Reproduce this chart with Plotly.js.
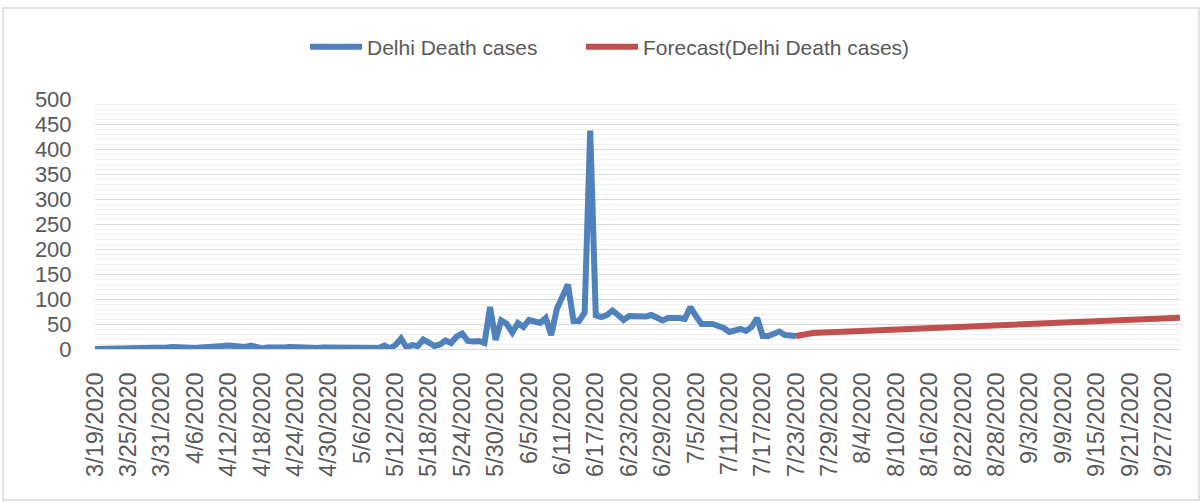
<!DOCTYPE html>
<html>
<head>
<meta charset="utf-8">
<script src="https://cdn.plot.ly/plotly-3.0.1.min.js"></script>
<style>
  html, body { margin: 0; padding: 0; background: #ffffff; }
  #chart { width: 1203px; height: 502px; }
</style>
</head>
<body>
<div id="chart"></div>
<script>
// ---- Data ----
const actualStart = '2020-03-19';
// Daily Delhi death cases, 3/19/2020 .. 7/23/2020
const actualValues = [
  0, 0, 0, 0, 0, 0, 0, 0, 0, 1,
  0, 0, 2, 3, 4, 3, 2, 3, 2, 3,
  3, 4, 3, 6, 7, 6, 3, 4, 7, 4,
  1, 3, 2, 1, 3, 4, 3, 2, 1, 2,
  2, 3, 3, 4, 2, 1, 2, 2, 1, 2,
  3, 2, 7, 1, 8, 21, 3, 8, 6, 19,
  13, 6, 9, 17, 12, 25, 31, 16, 15, 16,
  12, 84, 18, 57, 50, 33, 52, 44, 58, 55,
  52, 62, 28, 80, 104, 129, 56, 56, 73, 437,
  67, 64, 68, 77, 68, 58, 66, 65, 64, 65,
  68, 64, 57, 62, 63, 62, 60, 84, 66, 50,
  50, 50, 46, 42, 34, 37, 40, 36, 44, 62,
  26, 26, 30, 35, 28, 27, 26
];
const forecastStart = '2020-07-23';
// Forecast(Delhi Death cases), 7/23/2020 .. 9/30/2020
const forecastValues = [
  26, 29, 31, 32.0, 32.5, 33.0, 33.4, 33.9, 34.4, 34.8,
  35.3, 35.7, 36.2, 36.7, 37.1, 37.6, 38.0, 38.5, 39.0, 39.4,
  39.9, 40.3, 40.8, 41.3, 41.7, 42.2, 42.6, 43.1, 43.6, 44.0,
  44.5, 44.9, 45.4, 45.9, 46.3, 46.8, 47.2, 47.7, 48.2, 48.6,
  49.1, 49.5, 50.0, 50.5, 50.9, 51.4, 51.8, 52.3, 52.8, 53.2,
  53.7, 54.1, 54.6, 55.1, 55.5, 56.0, 56.4, 56.9, 57.4, 57.8,
  58.3, 58.7, 59.2, 59.7, 60.1, 60.6, 61.0, 61.5, 62.0, 62.4
];
const seriesNames = ['Delhi Death cases', 'Forecast(Delhi Death cases)'];
const tickLabels = [
  '3/19/2020','3/25/2020','3/31/2020','4/6/2020','4/12/2020','4/18/2020',
  '4/24/2020','4/30/2020','5/6/2020','5/12/2020','5/18/2020','5/24/2020',
  '5/30/2020','6/5/2020','6/11/2020','6/17/2020','6/23/2020','6/29/2020',
  '7/5/2020','7/11/2020','7/17/2020','7/23/2020','7/29/2020','8/4/2020',
  '8/10/2020','8/16/2020','8/22/2020','8/28/2020','9/3/2020','9/9/2020',
  '9/15/2020','9/21/2020','9/27/2020'
];
const xRange = ['2020-03-19', '2020-09-30'];

// ---- Helpers ----
function dayList(start, n) {
  const out = [];
  const d0 = new Date(start + 'T00:00:00Z');
  for (let i = 0; i < n; i++) {
    const d = new Date(d0.getTime() + i * 86400000);
    out.push(d.toISOString().slice(0, 10));
  }
  return out;
}
function labelToIso(lbl) {
  const p = lbl.split('/');
  return p[2] + '-' + String(p[0]).padStart(2, '0') + '-' + String(p[1]).padStart(2, '0');
}

const actualDates = dayList(actualStart, actualValues.length);
const forecastDates = dayList(forecastStart, forecastValues.length);
const tickVals = tickLabels.map(labelToIso);

const FONT = 'Liberation Sans, Arial, sans-serif';
const TXT = '#595959';

const traces = [
  {
    x: actualDates, y: actualValues, name: seriesNames[0],
    type: 'scatter', mode: 'lines', legend: 'legend',
    line: { color: '#4f81bd', width: 6, shape: 'linear' }
  },
  {
    x: forecastDates, y: forecastValues, name: seriesNames[1],
    type: 'scatter', mode: 'lines', legend: 'legend2',
    line: { color: '#c0504d', width: 6, shape: 'linear' }
  }
];

function legendAt(px) {
  return {
    orientation: 'h', xref: 'container', yref: 'container',
    x: px / 1203, xanchor: 'left', y: 0.906, yanchor: 'middle',
    font: { family: FONT, size: 21, color: TXT },
    itemwidth: 52, bgcolor: 'rgba(0,0,0,0)'
  };
}

const layout = {
  width: 1203, height: 502,
  paper_bgcolor: '#ffffff', plot_bgcolor: '#ffffff',
  margin: { l: 95, r: 23, t: 99, b: 153, pad: 0 },
  font: { family: FONT, color: TXT, size: 20 },
  showlegend: true,
  legend: legendAt(305),
  legend2: legendAt(581),
  xaxis: {
    type: 'date', range: xRange,
    tickmode: 'array', tickvals: tickVals, ticktext: tickLabels,
    tickangle: -90, tickfont: { family: FONT, size: 23.5, color: TXT },
    showgrid: false, zeroline: false,
    showline: true, linecolor: '#d9d9d9', linewidth: 1,
    ticks: 'outside', ticklen: 13, tickcolor: 'rgba(0,0,0,0)',
    fixedrange: true
  },
  yaxis: {
    range: [0, 500], tick0: 0, dtick: 50,
    tickfont: { family: FONT, size: 22, color: TXT },
    showgrid: true, gridcolor: '#d9d9d9', gridwidth: 1,
    minor: { dtick: 10, showgrid: true, gridcolor: '#f0f0f0', gridwidth: 1 },
    zeroline: false, showline: false,
    ticks: 'outside', ticklen: 18, tickcolor: 'rgba(0,0,0,0)',
    fixedrange: true
  },
  shapes: [
    {
      type: 'rect', xref: 'paper', yref: 'paper', layer: 'below',
      x0: -0.0848, x1: 1.0175, y0: -0.604, y1: 1.364,
      line: { color: '#d9d9d9', width: 1.5 }, fillcolor: 'rgba(0,0,0,0)'
    }
  ]
};

Plotly.newPlot('chart', traces, layout, { displayModeBar: false, staticPlot: true });
</script>
</body>
</html>
